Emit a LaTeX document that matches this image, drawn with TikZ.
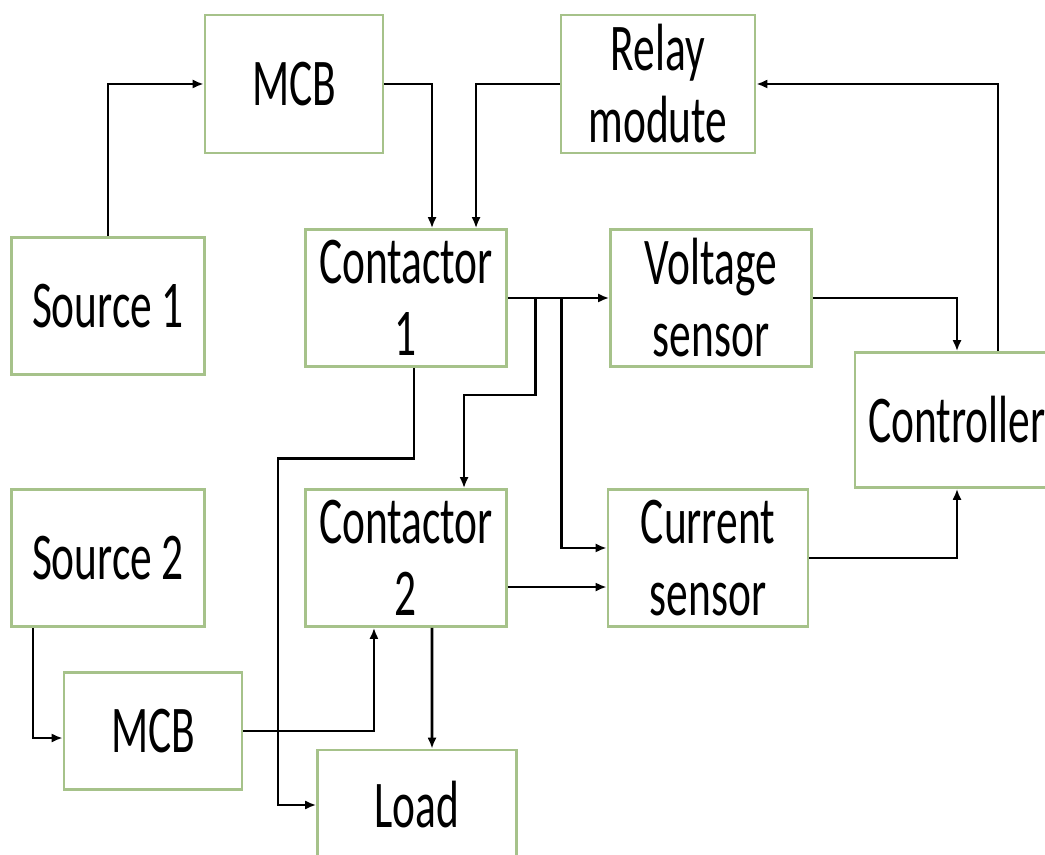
\documentclass[tikz,border=0pt]{standalone}
\usepackage{fontspec}
\setmainfont{Carlito}[FakeStretch=0.65]
\usepackage{tikz}
\usetikzlibrary{arrows.meta,calc}
\definecolor{boxgreen}{HTML}{A6C28A}

\begin{document}
\begin{tikzpicture}[
    x=0.01cm,y=-0.01cm,
    blk/.style = {rectangle,draw=boxgreen,line width=0.7pt,align=center,inner sep=0pt,
                  font=\fontsize{19}{20.5}\selectfont},
    fl/.style  = {-{Latex[length=1.1mm,width=0.9mm]},black,line width=0.75pt},
  ]
  \useasboundingbox (0,0) rectangle (1045,855);

  \node[blk,minimum width=1.78cm,minimum height=1.38cm] (mcba) at (294,84)  {MCB};
  \node[blk,minimum width=1.94cm,minimum height=1.38cm] (rly)  at (658,84)  {Relay\\modute};
  \node[blk,minimum width=1.93cm,minimum height=1.37cm] (srca) at (108,306) {Source 1};
  \node[blk,minimum width=2.01cm,minimum height=1.37cm] (cta)  at (406,298) {Contactor\\1};
  \node[blk,minimum width=2.01cm,minimum height=1.37cm] (vs)   at (711,298) {Voltage\\sensor};
  \node[blk,minimum width=2.04cm,minimum height=1.35cm] (ctl)  at (957,420) {Controller};
  \node[blk,minimum width=1.93cm,minimum height=1.37cm] (srcb) at (108,558) {Source 2};
  \node[blk,minimum width=2.01cm,minimum height=1.37cm] (ctb)  at (406,558) {Contactor\\2};
  \node[blk,minimum width=2.00cm,minimum height=1.37cm] (cs)   at (708,558) {Current\\sensor};
  \node[blk,minimum width=1.78cm,minimum height=1.17cm] (mcbb) at (153,731) {MCB};
  \node[blk,minimum width=1.99cm,minimum height=1.10cm] (load) at (417,805) {Load};

  % supply 1
  \draw[fl] (srca.north) |- (mcba.west);
  \draw[fl] (mcba.east) -| ([xshift=0.26cm]cta.north);
  \draw[fl] (rly.west) -| ([xshift=0.70cm]cta.north);
  \draw[fl] ([xshift=0.41cm]ctl.north) |- (rly.east);

  % sensing
  \coordinate (ja) at ($(cta.east)+(28,0)$);
  \coordinate (jb) at ($(cta.east)+(54,0)$);
  \draw[fl] (cta.east) -- (vs.west);
  \draw[fl] (ja) -- ++(0,97) -| ([xshift=0.58cm]ctb.north);
  \draw[fl] (jb) |- ([yshift=0.10cm]cs.west);
  \draw[fl] ([yshift=-0.29cm]ctb.east) -- ([yshift=-0.29cm]cs.west);
  \draw[fl] (vs.east) -| (ctl.north);
  \draw[fl] (cs.east) -| (ctl.south);

  % supply 2 and load
  \draw[fl] ([xshift=-0.75cm]srcb.south) |- ([yshift=-0.07cm]mcbb.west);
  \draw[fl] (mcbb.east) -| ([xshift=-0.32cm]ctb.south);
  \draw[fl] ([xshift=0.26cm]ctb.south) -- ([xshift=0.15cm]load.north);
  \draw[fl] ([xshift=0.08cm]cta.south) -- ++(0,91) -- ++(-136,0) |- (load.west);

\end{tikzpicture}
\end{document}
